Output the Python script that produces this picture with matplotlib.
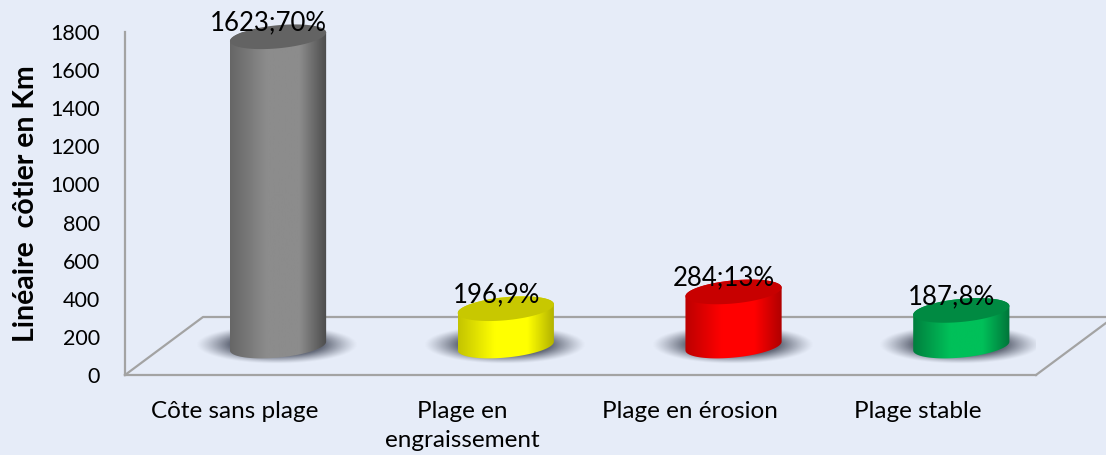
import matplotlib
matplotlib.use('Agg')
import matplotlib.pyplot as plt
from matplotlib.colors import LinearSegmentedColormap
from matplotlib.patches import Polygon
from matplotlib.transforms import ScaledTranslation
import numpy as np

categories = ['Côte sans plage', 'Plage en\nengraissement', 'Plage en érosion', 'Plage stable']
values = [1623, 196, 284, 187]
percents = [70, 9, 13, 8]
yticks = [0, 200, 400, 600, 800, 1000, 1200, 1400, 1600, 1800]

# edge left, middle, edge right, top face
bar_colors = [
    ['#666666', '#8c8c8c', '#4c4c4c', '#636363'],
    ['#c4c400', '#ffff00', '#b0b000', '#c8c800'],
    ['#bc0000', '#ff0000', '#b00000', '#c80000'],
    ['#007f3e', '#00c059', '#00753a', '#008a42'],
]

W, H = 1106, 455
BG = '#e6ecf8'
FLOOR = '#a3a3a3'

plt.rcParams['font.family'] = ['Lato', 'DejaVu Sans']

fig = plt.figure(figsize=(W / 100, H / 100), dpi=100, facecolor=BG)
ax = fig.add_axes([125 / W, 1 - 375 / H, 911 / W, 343 / H], facecolor='none')
ax.set_xlim(-0.5, 3.5)
ax.set_ylim(0, 1800)

# size of the fake 3d, in pixels and axis units
x_shift = 0.172
y_base = 152
px_x = 911 / 4
px_y = 343 / 1800
semi_a = 48.3
semi_b = 11.5
theta = np.radians(5.5)
phi = np.arctan2(semi_b * np.sin(theta), semi_a * np.cos(theta))


def ellipse(cx, cy, t):
    dx = semi_a * np.cos(t) * np.cos(theta) - semi_b * np.sin(t) * np.sin(theta)
    dy = semi_a * np.cos(t) * np.sin(theta) + semi_b * np.sin(t) * np.cos(theta)
    return cx + dx / px_x, cy + dy / px_y


def drawShadow(cx):
    gx, gy = np.meshgrid(np.linspace(-1, 1, 200), np.linspace(-1, 1, 60))
    r = np.sqrt(gx ** 2 + gy ** 2)
    alpha = np.clip((1 - r) / 0.42, 0, 1) ** 1.2 * 0.9
    img = np.zeros((60, 200, 4))
    img[..., :3] = matplotlib.colors.to_rgb('#555b6b')
    img[..., 3] = alpha
    ax.imshow(img, extent=[cx - 0.36, cx + 0.35, 60, 260], aspect='auto', zorder=2, origin='lower')


def drawCylinder(cx, value, colors):
    top = y_base + value
    # bottom arc left to right, then top arc right to left
    xb, yb = ellipse(cx, y_base, np.linspace(np.pi - phi, 2 * np.pi - phi, 80))
    xt, yt = ellipse(cx, top, np.linspace(-phi, np.pi - phi, 80))
    side = Polygon(np.column_stack([np.r_[xb, xt], np.r_[yb, yt]]), closed=True,
                   facecolor='none', edgecolor='none', zorder=3)
    ax.add_patch(side)
    cmap = LinearSegmentedColormap.from_list(
        'side', [(0, colors[0]), (0.38, colors[1]), (0.72, colors[1]), (1, colors[2])])
    im = ax.imshow(np.linspace(0, 1, 200).reshape(1, -1), cmap=cmap, aspect='auto', zorder=3,
                   extent=[xb.min(), xb.max(), y_base - 100, top + 100])
    im.set_clip_path(side)
    xe, ye = ellipse(cx, top, np.linspace(0, 2 * np.pi, 160))
    ax.fill(xe, ye, color=colors[3], lw=0, zorder=4, clip_on=False)


# floor
depth_x = 78 / px_x
depth_y = 58 / px_y
x0, x1 = -0.5, 3.5
ax.plot([x0, x0 + depth_x, x1 + depth_x, x1], [0, depth_y, depth_y, 0],
        color=FLOOR, lw=1.6, clip_on=False, zorder=1)

for i, value in enumerate(values):
    cx = i + x_shift
    drawShadow(cx)
    drawCylinder(cx, value, bar_colors[i])
    ax.annotate(f'{value};{percents[i]}%', xy=(cx, y_base + value), xytext=(-7, 10),
                textcoords='offset points', ha='center', va='center', fontsize=18.5,
                color='black', zorder=5, annotation_clip=False)

ax.set_xlim(-0.5, 3.5)
ax.set_ylim(0, 1800)

for name in ['top', 'right']:
    ax.spines[name].set_visible(False)
for name in ['left', 'bottom']:
    ax.spines[name].set_color(FLOOR)
    ax.spines[name].set_linewidth(1.6)

ax.set_yticks(yticks)
ax.set_xticks(range(len(categories)))
ax.set_xticklabels(categories, linespacing=1.45)
ax.tick_params(axis='y', length=0, pad=18, labelsize=15.5)
ax.tick_params(axis='x', length=0, pad=19, labelsize=17.5)
shift = ScaledTranslation(-3 / 72, 0, fig.dpi_scale_trans)
for lab in ax.get_xticklabels():
    lab.set_transform(lab.get_transform() + shift)

fig.text(26 / W, 1 - 204 / H, 'Linéaire  côtier en Km', rotation=90, ha='center', va='center',
         fontsize=20.5, fontweight='bold')

fig.savefig('out.png', dpi=100, facecolor=BG)
